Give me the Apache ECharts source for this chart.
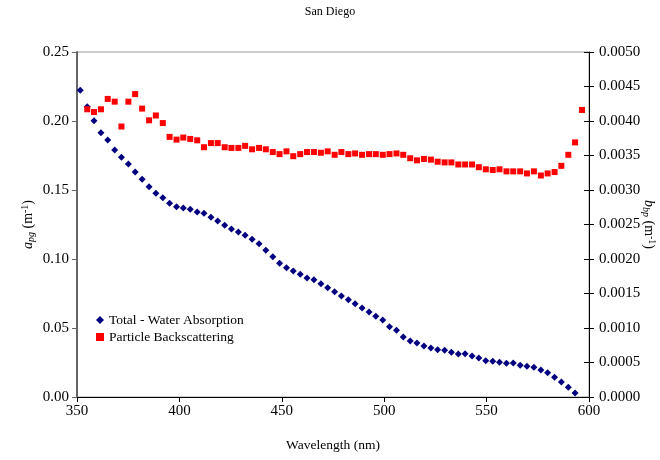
<!DOCTYPE html>
<html>
<head>
<meta charset="utf-8">
<script src="https://cdn.jsdelivr.net/npm/echarts@6/dist/echarts.min.js"></script>
<style>
  html, body { margin: 0; padding: 0; background: #fff; }
  #chart { width: 660px; height: 460px; }
</style>
</head>
<body>
<div id="chart"></div>
<script>
// wavelengths (nm), shared by both series
var wavelengths = [
	351.6, 355.0, 358.3, 361.7, 365.0, 368.4, 371.7, 375.1, 378.4, 381.8,
	385.2, 388.5, 391.9, 395.2, 398.6, 401.9, 405.3, 408.7, 412.0, 415.4,
	418.7, 422.1, 425.4, 428.8, 432.1, 435.5, 438.9, 442.2, 445.6, 448.9,
	452.3, 455.6, 459.0, 462.3, 465.7, 469.1, 472.4, 475.8, 479.1, 482.5,
	485.8, 489.2, 492.6, 495.9, 499.3, 502.6, 506.0, 509.3, 512.7, 516.0,
	519.4, 522.8, 526.1, 529.5, 532.8, 536.2, 539.5, 542.9, 546.2, 549.6,
	553.0, 556.3, 559.7, 563.0, 566.4, 569.7, 573.1, 576.5, 579.8, 583.2,
	586.5, 589.9, 593.2, 596.6
];

// Total - Water Absorption, starts at wavelengths[0]
var absorption = [
	0.2222, 0.2104, 0.2002, 0.1915, 0.1862, 0.1790, 0.1737, 0.1688, 0.1630, 0.1578,
	0.1524, 0.1476, 0.1444, 0.1404, 0.1379, 0.1370, 0.1360, 0.1341, 0.1331, 0.1302,
	0.1275, 0.1244, 0.1217, 0.1196, 0.1172, 0.1143, 0.1111, 0.1063, 0.1017, 0.0969,
	0.0937, 0.0913, 0.0889, 0.0862, 0.0850, 0.0821, 0.0792, 0.0763, 0.0732, 0.0705,
	0.0676, 0.0645, 0.0616, 0.0585, 0.0558, 0.0509, 0.0483, 0.0435, 0.0406, 0.0391,
	0.0370, 0.0355, 0.0343, 0.0338, 0.0324, 0.0312, 0.0314, 0.0297, 0.0283, 0.0263,
	0.0259, 0.0251, 0.0244, 0.0246, 0.0230, 0.0222, 0.0215, 0.0196, 0.0176, 0.0143,
	0.0109, 0.0070, 0.0029
];

// Particle Backscattering, starts at wavelengths[1]
var backscatter = [
	0.00417, 0.00413, 0.00417, 0.00432, 0.00428, 0.00392, 0.00428, 0.00439, 0.00418, 0.00401,
	0.00408, 0.00397, 0.00377, 0.00373, 0.00376, 0.00374, 0.00372, 0.00362, 0.00368, 0.00368,
	0.00362, 0.00361, 0.00361, 0.00364, 0.00359, 0.00361, 0.00359, 0.00355, 0.00352, 0.00356,
	0.00349, 0.00352, 0.00355, 0.00355, 0.00354, 0.00356, 0.00351, 0.00355, 0.00352, 0.00353,
	0.00351, 0.00352, 0.00352, 0.00351, 0.00352, 0.00353, 0.00351, 0.00346, 0.00343, 0.00345,
	0.00344, 0.00341, 0.00340, 0.00340, 0.00337, 0.00337, 0.00337, 0.00333, 0.00330, 0.00329,
	0.00330, 0.00327, 0.00327, 0.00327, 0.00324, 0.00327, 0.00321, 0.00324, 0.00326, 0.00335,
	0.00351, 0.00369, 0.00416
];

var serif = '"Liberation Serif", "DejaVu Serif", serif';

var absData = [];
for (var i = 0; i < absorption.length; i++) {
	absData.push([wavelengths[i], absorption[i]]);
}
var bbpData = [];
for (var j = 0; j < backscatter.length; j++) {
	bbpData.push([wavelengths[j + 1], backscatter[j]]);
}

var nameRich = {
	i: { fontFamily: serif, fontSize: 14, fontStyle: 'italic', color: '#000' },
	sub: { fontFamily: serif, fontSize: 10, fontStyle: 'italic', color: '#000', padding: [6, 0, 0, 0] },
	sup: { fontFamily: serif, fontSize: 10, color: '#000', padding: [0, 0, 6, 0] },
	t: { fontFamily: serif, fontSize: 14, color: '#000' }
};

var myChart = echarts.init(document.getElementById('chart'));

var option = {
	animation: false,
	title: {
		text: 'San Diego',
		left: 'center',
		top: 1,
		textStyle: { fontFamily: serif, fontSize: 12, fontWeight: 'normal', color: '#000' }
	},
	grid: {
		left: 77,
		right: 71,
		top: 52,
		bottom: 63,
		outerBoundsMode: 'none',
		show: true,
		borderColor: '#999',
		borderWidth: 1
	},
	legend: {
		orient: 'vertical',
		left: 91,
		top: 308,
		itemWidth: 8,
		itemHeight: 8,
		itemGap: 3,
		textStyle: { fontFamily: serif, fontSize: 13.5, color: '#000' },
		data: [
			{ name: 'Total - Water Absorption', icon: 'diamond' },
			{ name: 'Particle Backscattering', icon: 'rect' }
		]
	},
	xAxis: {
		type: 'value',
		min: 350,
		max: 600,
		interval: 50,
		name: 'Wavelength (nm)',
		nameLocation: 'middle',
		nameGap: 41,
		nameTextStyle: { fontFamily: serif, fontSize: 13.5, color: '#000' },
		axisLine: { lineStyle: { color: '#000', width: 1 } },
		axisTick: { length: 5, lineStyle: { color: '#000' } },
		axisLabel: { fontFamily: serif, fontSize: 15, color: '#000', margin: 7 },
		splitLine: { show: false }
	},
	yAxis: [
		{
			type: 'value',
			position: 'left',
			min: 0,
			max: 0.25,
			interval: 0.05,
			name: '{i|a}{sub|pg}{t| (m}{sup|-1}{t|)}',
			nameLocation: 'middle',
			nameGap: 41,
			nameMoveOverlap: false,
			nameTextStyle: { rich: nameRich },
			axisLine: { show: true, lineStyle: { color: '#666', width: 2 } },
			axisTick: { show: true, length: 5, lineStyle: { color: '#666' } },
			axisLabel: {
				fontFamily: serif, fontSize: 15, color: '#000', margin: 8,
				formatter: function (v) { return v.toFixed(2); }
			},
			splitLine: { show: false }
		},
		{
			type: 'value',
			position: 'right',
			min: 0,
			max: 0.005,
			interval: 0.0005,
			name: '{i|b}{sub|bp}{t| (m}{sup|-1}{t|)}',
			nameLocation: 'middle',
			nameRotate: -90,
			nameGap: 52,
			nameMoveOverlap: false,
			nameTextStyle: { rich: nameRich },
			axisLine: { show: true, lineStyle: { color: '#000', width: 1 } },
			axisTick: { show: true, length: 5, lineStyle: { color: '#000' } },
			axisLabel: {
				fontFamily: serif, fontSize: 15, color: '#000', margin: 10,
				formatter: function (v) { return v.toFixed(4); }
			},
			splitLine: { show: false }
		},
		{
			// inner half of the crossing ticks on the right axis
			type: 'value',
			position: 'right',
			min: 0,
			max: 0.005,
			interval: 0.0005,
			axisLine: { show: false },
			axisTick: { show: true, inside: true, length: 5, lineStyle: { color: '#000' } },
			axisLabel: { show: false },
			splitLine: { show: false }
		}
	],
	series: [
		{
			name: 'Total - Water Absorption',
			type: 'scatter',
			yAxisIndex: 0,
			symbol: 'diamond',
			symbolSize: 7,
			itemStyle: { color: '#000080', opacity: 1 },
			data: absData
		},
		{
			name: 'Particle Backscattering',
			type: 'scatter',
			yAxisIndex: 1,
			symbol: 'rect',
			symbolSize: 6,
			itemStyle: { color: '#ff0000', opacity: 1 },
			data: bbpData
		}
	]
};

myChart.setOption(option);
</script>
</body>
</html>
